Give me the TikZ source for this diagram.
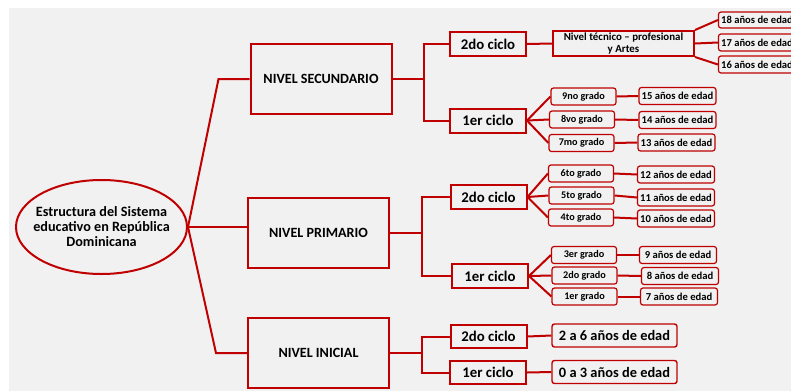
\documentclass[tikz,border=0pt]{standalone}
\usepackage{fontspec}
\setmainfont{Carlito}
\usetikzlibrary{shapes.geometric}
\definecolor{rojo}{HTML}{C00000}
\definecolor{fondo}{HTML}{F1F1F1}

\begin{document}
\begin{tikzpicture}[x=1pt, y=-1pt]
  \useasboundingbox (0, 0) rectangle (791, 391);
  \clip (0, 0) rectangle (791, 391);
  \fill [fondo] (9, 8) rectangle (791, 391);  % Hintergrund.
  \tikzstyle{raiz}=[ellipse, draw=rojo, line width=2pt, minimum width=171pt, minimum height=94pt, inner sep=0pt]
  \tikzstyle{texto}=[align=center, inner sep=0pt, font=\bfseries\fontsize{14.2}{15}\selectfont]
  \tikzstyle{nivel}=[rectangle, draw=rojo, line width=2pt, minimum width=141pt, minimum height=70pt, inner sep=0pt, font=\bfseries\fontsize{14.1}{15}\selectfont]
  \tikzstyle{ciclo}=[rectangle, draw=rojo, line width=2pt, minimum width=76pt, minimum height=24pt, inner sep=0pt, font=\bfseries\fontsize{14.8}{16}\selectfont]
  \tikzstyle{grado}=[rectangle, rounded corners=2.5pt, draw=rojo, line width=1.2pt, minimum width=65pt, minimum height=17pt, inner sep=0pt, fill=fondo, font=\bfseries\fontsize{10.2}{11}\selectfont]
  \tikzstyle{edad}=[grado, minimum width=77pt, font=\bfseries\fontsize{10.6}{11}\selectfont]
  \tikzstyle{edadg}=[grado, minimum width=125pt, minimum height=23pt, line width=1.4pt, font=\bfseries\fontsize{14.4}{15}\selectfont]
  \tikzstyle{linea}=[draw=rojo, line width=2pt]

  \node[raiz] (raiz) at (101.5, 227) {};
  \node[texto] (titulo) at (raiz.center) {Estructura del Sistema\\educativo en República\\Dominicana};

  \node[nivel] (sec)  at (321, 79)    {NIVEL SECUNDARIO};
  \node[nivel] (prim) at (318.5, 233) {NIVEL PRIMARIO};
  \node[nivel] (ini)  at (318.5, 353) {NIVEL INICIAL};

  \node[ciclo] (s2) at (488, 44)    {2do ciclo};
  \node[ciclo] (s1) at (488, 120.5) {1er ciclo};
  \node[ciclo] (p2) at (488.5, 197) {2do ciclo};
  \node[ciclo] (p1) at (490, 276)   {1er ciclo};
  \node[ciclo, minimum height=23pt] (i2) at (488.5, 336.5) {2do ciclo};
  \node[ciclo, minimum height=23pt] (i1) at (488, 372.5)   {1er ciclo};

  \node[rectangle, draw=rojo, line width=2pt, minimum width=141pt, minimum height=25pt, inner sep=0pt, align=center, font=\bfseries\fontsize{10.9}{11.5}\selectfont] (tec) at (623.5, 43.5) {Nivel técnico -- profesional\\y Artes};
  \node[edad, minimum height=16pt] (a18) at (757, 20)   {18 años de edad};
  \node[edad] (a17) at (757, 42.5) {17 años de edad};
  \node[edad] (a16) at (757, 64.5) {16 años de edad};

  \node[grado] (g9) at (583.5, 96.5) {9no grado};
  \node[grado] (g8) at (582, 119.5)  {8vo grado};
  \node[grado] (g7) at (581.5, 143)  {7mo grado};
  \node[edad] (a15) at (677.5, 96)   {15 años de edad};
  \node[edad] (a14) at (677.5, 120)  {14 años de edad};
  \node[edad] (a13) at (676.5, 142.5) {13 años de edad};

  \node[grado] (g6) at (581, 173.5)  {6to grado};
  \node[grado] (g5) at (581.5, 195.5) {5to grado};
  \node[grado] (g4) at (581, 217.5)  {4to grado};
  \node[edad] (a12) at (676, 174.5)  {12 años de edad};
  \node[edad] (a11) at (676, 197.5)  {11 años de edad};
  \node[edad] (a10) at (676, 218.5)  {10 años de edad};

  \node[grado] (g3) at (584, 255)    {3er grado};
  \node[grado] (g2) at (584.5, 275.5) {2do grado};
  \node[grado] (g1) at (584.5, 296.5) {1er grado};
  \node[edad] (a9) at (678, 255)     {9 años de edad};
  \node[edad] (a8) at (680, 276)     {8 años de edad};
  \node[edad] (a7) at (679, 296.5)   {7 años de edad};

  \node[edadg] (e2) at (614.5, 335.5) {2 a 6 años de edad};
  \node[edadg] (e1) at (614.5, 372)   {0 a 3 años de edad};

  \path[linea] (raiz.east) -- ([xshift=-31pt]sec.west) -- (sec.west);
  \path[linea] (raiz.east) -- (raiz.east -| prim.west);
  \path[linea] (raiz.east) -- ([xshift=-31pt]ini.west) -- (ini.west);

  \path[linea] (sec.east) -- ++(31, 0) |- (s2.west);
  \path[linea] (sec.east) -- ++(31, 0) |- (s1.west);
  \path[linea] (prim.east) -- ++(32, 0) |- (p2.west);
  \path[linea] (prim.east) -- ++(32, 0) |- (p1.west);
  \path[linea] (ini.east) -- ++(32, 0) |- (i2.west);
  \path[linea] (ini.east) -- ++(32, 0) |- (i1.west);

  \path[linea] (s2.east) -- (tec.west);
  \path[linea] (tec.north east) -- (a18.west);
  \path[linea] (tec.east) -- (a17.west);
  \path[linea] (tec.south east) -- (a16.west);

  \path[linea] (s1.east) -- (g9.west);
  \path[linea] (s1.east) -- (g8.west);
  \path[linea] (s1.east) -- (g7.west);
  \path[linea] (g9.east) -- (a15.west);
  \path[linea] (g8.east) -- (a14.west);
  \path[linea] (g7.east) -- (a13.west);

  \path[linea] (p2.east) -- (g6.west);
  \path[linea] (p2.east) -- (g5.west);
  \path[linea] (p2.east) -- (g4.west);
  \path[linea] (g6.east) -- (a12.west);
  \path[linea] (g5.east) -- (a11.west);
  \path[linea] (g4.east) -- (a10.west);

  \path[linea] (p1.east) -- (g3.west);
  \path[linea] (p1.east) -- (g2.west);
  \path[linea] (p1.east) -- (g1.west);
  \path[linea] (g3.east) -- (a9.west);
  \path[linea] (g2.east) -- (a8.west);
  \path[linea] (g1.east) -- (a7.west);

  \path[linea] (i2.east) -- (e2.west);
  \path[linea] (i1.east) -- (e1.west);
\end{tikzpicture}
\end{document}
